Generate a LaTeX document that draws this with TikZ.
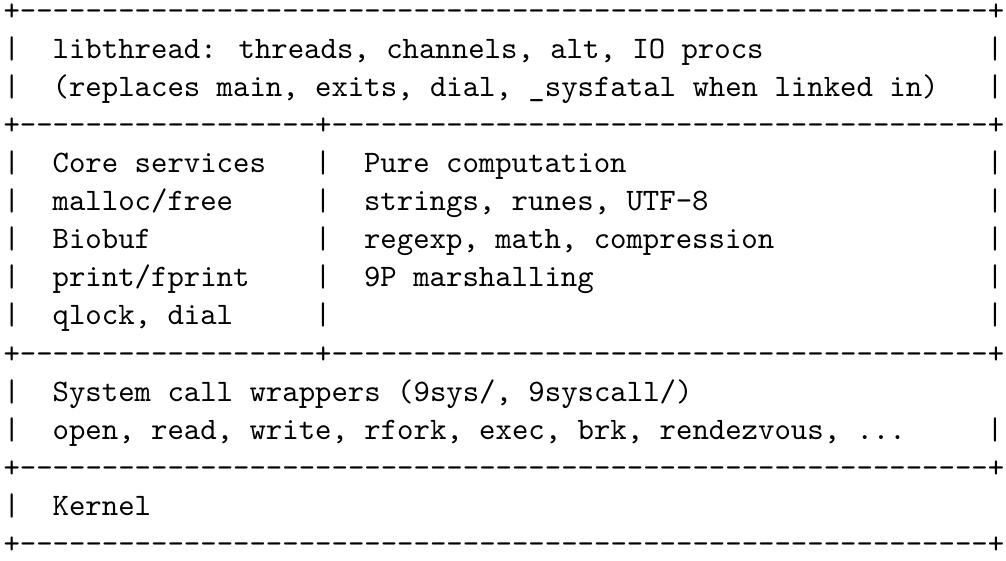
\documentclass[tikz,border=0pt]{standalone}
\usepackage{fontspec}

% a run of #1 hyphens, each braced so no ligature can join them
\ExplSyntaxOn
\cs_new:Npn \hrun #1 { \prg_replicate:nn {#1} { {-} } }
\ExplSyntaxOff

\tikzset{
  glyph/.style={anchor=base west, inner sep=0pt, outer sep=0pt,
    font=\ttfamily\fontsize{10}{12}\selectfont},
}

% text segment #4 named #1, starting at column #2 of row #3
\newcommand\seg[4]{\node[glyph] (#1) at ({3.5+16.39*(#2)},{21+38*(#3)}) {#4};}

\begin{document}
\begin{tikzpicture}[x=0.32pt, y=-0.32pt]
\useasboundingbox (0,0) rectangle (1006,561);

% libthread layer
\seg{r0}{0}{0}{+\hrun{59}+}
\seg{r1l}{0}{1}{|}\seg{r1t}{3}{1}{libthread: threads, channels, alt, IO procs}\seg{r1r}{60}{1}{|}
\seg{r2l}{0}{2}{|}\seg{r2t}{3}{2}{(replaces main, exits, dial, \_sysfatal when linked in)}\seg{r2r}{60}{2}{|}
\seg{r3}{0}{3}{+\hrun{18}+\hrun{40}+}

% core services and pure computation
\seg{r4l}{0}{4}{|}\seg{r4a}{3}{4}{Core services}\seg{r4m}{19}{4}{|}\seg{r4b}{22}{4}{Pure computation}\seg{r4r}{60}{4}{|}
\seg{r5l}{0}{5}{|}\seg{r5a}{3}{5}{malloc/free}\seg{r5m}{19}{5}{|}\seg{r5b}{22}{5}{strings, runes, UTF-8}\seg{r5r}{60}{5}{|}
\seg{r6l}{0}{6}{|}\seg{r6a}{3}{6}{Biobuf}\seg{r6m}{19}{6}{|}\seg{r6b}{22}{6}{regexp, math, compression}\seg{r6r}{60}{6}{|}
\seg{r7l}{0}{7}{|}\seg{r7a}{3}{7}{print/fprint}\seg{r7m}{19}{7}{|}\seg{r7b}{22}{7}{9P marshalling}\seg{r7r}{60}{7}{|}
\seg{r8l}{0}{8}{|}\seg{r8a}{3}{8}{qlock, dial}\seg{r8m}{19}{8}{|}\seg{r8r}{60}{8}{|}
\seg{r9}{0}{9}{+\hrun{18}+\hrun{40}+}

% system call wrappers
\seg{r10l}{0}{10}{|}\seg{r10t}{3}{10}{System call wrappers (9sys/, 9syscall/)}
\seg{r11l}{0}{11}{|}\seg{r11t}{3}{11}{open, read, write, rfork, exec, brk, rendezvous, ...}\seg{r11r}{60}{11}{|}
\seg{r12}{0}{12}{+\hrun{59}+}

% kernel
\seg{r13l}{0}{13}{|}\seg{r13t}{3}{13}{Kernel}
\seg{r14}{0}{14}{+\hrun{59}+}
\end{tikzpicture}
\end{document}
